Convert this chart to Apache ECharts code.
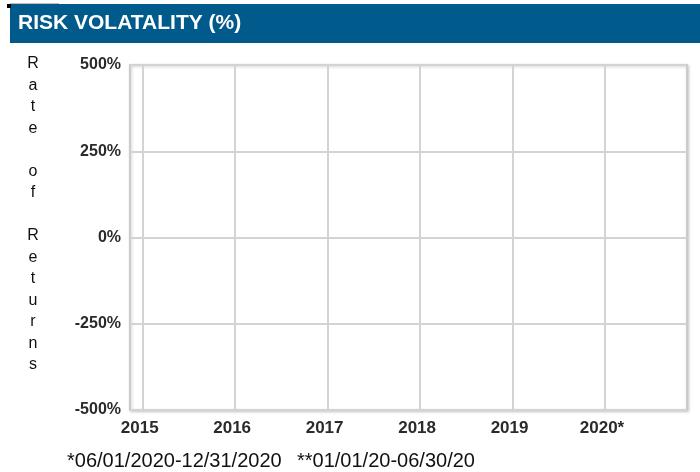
<!DOCTYPE html>
<html>
<head>
<meta charset="utf-8">
<script src="https://cdn.jsdelivr.net/npm/echarts@6/dist/echarts.min.js"></script>
<style>
  html, body { margin: 0; padding: 0; background: #ffffff; }
  #chart { width: 700px; height: 472px; }
</style>
</head>
<body>
<div id="chart"></div>
<script>
// ---- data ----
const titleText = 'RISK VOLATALITY (%)';
const categories = ['2015', '2016', '2017', '2018', '2019', '2020*'];
const seriesValues = []; // the reference chart plots no values
const yMin = -500;
const yMax = 500;
const yStep = 250;
const yAxisName = 'Rate of Returns';
const footnotes = ['*06/01/2020-12/31/2020', '**01/01/20-06/30/20'];

const FONT = "'Liberation Sans', Arial, sans-serif";
const gridColor = '#d3d3d3';

const chart = echarts.init(document.getElementById('chart'), null, { renderer: 'canvas' });

const option = {
  backgroundColor: '#ffffff',
  animation: false,
  grid: [
    { // frame box with horizontal grid lines
      left: 130, right: 13, top: 65, bottom: 62,
      show: true, borderColor: '#cbcbcb', borderWidth: 2,
      shadowColor: 'rgba(0,0,0,0.18)', shadowBlur: 3, shadowOffsetX: 1, shadowOffsetY: 1,
      backgroundColor: '#ffffff'
    },
    { // category plotting area
      left: 142.7, right: 95, top: 65, bottom: 62
    }
  ],
  xAxis: [
    { gridIndex: 0, type: 'value', show: false, min: 0, max: 1 },
    {
      gridIndex: 1, type: 'category', data: categories, boundaryGap: false,
      axisLine: { show: false }, axisTick: { show: false },
      axisLabel: { color: '#2a2a2a', fontFamily: FONT, fontSize: 17, fontWeight: 'bold', margin: 10,
                   padding: [0, 6, 0, 0] },
      splitLine: { show: true, lineStyle: { color: gridColor, width: 2 } }
    }
  ],
  yAxis: [
    {
      gridIndex: 0, type: 'value', min: yMin, max: yMax, interval: yStep,
      axisLine: { show: false }, axisTick: { show: false },
      axisLabel: { color: '#2a2a2a', fontFamily: FONT, fontSize: 16, fontWeight: 'bold', margin: 9,
                   formatter: v => v + '%' },
      splitLine: { show: true, lineStyle: { color: gridColor, width: 2 } }
    },
    { gridIndex: 1, type: 'value', min: yMin, max: yMax, interval: yStep, show: false,
      splitLine: { show: false } }
  ],
  series: [
    { type: 'line', xAxisIndex: 1, yAxisIndex: 1, data: seriesValues, symbol: 'none' }
  ],
  graphic: [
    { type: 'rect', shape: { x: 10, y: 4, width: 690, height: 39 }, style: { fill: '#005a8c' } },
    { type: 'rect', shape: { x: 10, y: 3, width: 49, height: 1 }, style: { fill: '#bdbdbd' } },
    { type: 'rect', shape: { x: 7, y: 4, width: 4, height: 4 }, style: { fill: '#000000' } },
    { type: 'text', left: 18, top: 13,
      style: { text: titleText, fill: '#ffffff', font: 'bold 21px ' + FONT } },
    { type: 'text', x: 33, y: 53,
      style: { text: yAxisName.split('').join('\n'), fill: '#111111', fontFamily: FONT, fontSize: 16,
               lineHeight: 21.5, align: 'center', verticalAlign: 'top' } },
    { type: 'text', x: 67, y: 461,
      style: { text: footnotes[0], fill: '#111111', fontFamily: FONT, fontSize: 20, verticalAlign: 'middle' } },
    { type: 'text', x: 297, y: 461,
      style: { text: footnotes[1], fill: '#111111', fontFamily: FONT, fontSize: 20, verticalAlign: 'middle' } }
  ]
};

chart.setOption(option);
</script>
</body>
</html>
